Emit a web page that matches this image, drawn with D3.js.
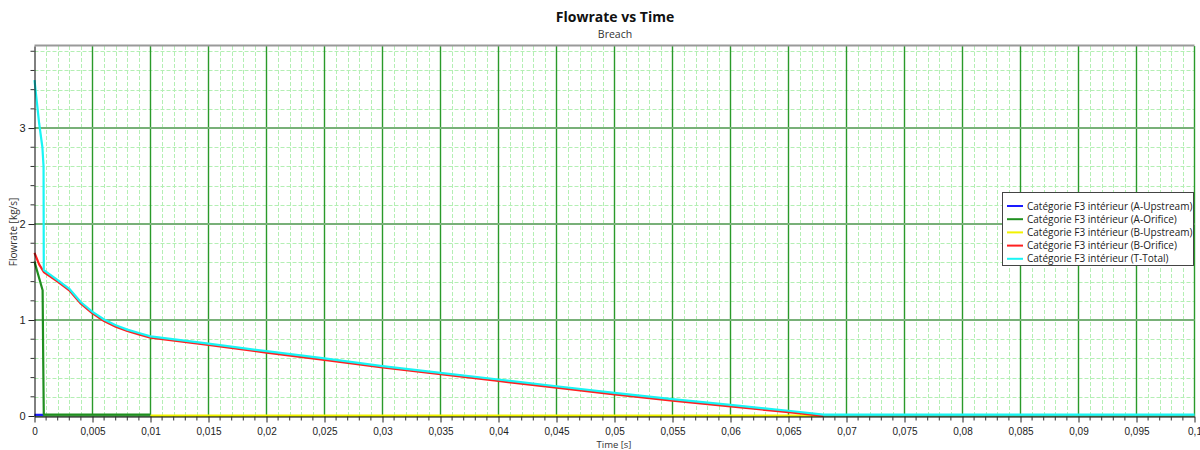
<!DOCTYPE html>
<html>
<head>
<meta charset="utf-8">
<script src="https://cdn.jsdelivr.net/npm/d3@7"></script>
<style>
  html, body { margin: 0; padding: 0; background: #fff; }
  svg { display: block; font-family: "Open Sans", "Noto Sans", sans-serif; }
</style>
</head>
<body>
<svg id="chart" width="1200" height="450"></svg>
<script>
// Flowrate vs time for the breach scenario, five series.
const seriesNames = [
  "Catégorie F3 intérieur (A-Upstream)",
  "Catégorie F3 intérieur (A-Orifice)",
  "Catégorie F3 intérieur (B-Upstream)",
  "Catégorie F3 intérieur (B-Orifice)",
  "Catégorie F3 intérieur (T-Total)"
];
const seriesColors = ["#1a1aff", "#1f8f1f", "#f2f200", "#ff2020", "#19f5f5"];

// time [s], flowrate [kg/s]
const aUpstreamT = [0, 0.0008];
const aUpstreamV = [0.012, 0.012];

const aOrificeT = [0, 0.0003, 0.0007, 0.00075, 0.0008, 0.01];
const aOrificeV = [1.61, 1.48, 1.31, 0.6, 0.015, 0.015];

const bUpstreamT = [0.01, 0.068];
const bUpstreamV = [0.004, 0.004];

const bOrificeT = [0, 0.0004, 0.0008, 0.002, 0.003, 0.004, 0.005, 0.006, 0.007, 0.008, 0.009, 0.01,
  0.015, 0.02, 0.025, 0.03, 0.035, 0.04, 0.045, 0.05, 0.055, 0.06, 0.065, 0.068];
const bOrificeV = [1.70, 1.58, 1.50, 1.40, 1.31, 1.17, 1.07, 0.99, 0.93, 0.885, 0.85, 0.815,
  0.74, 0.66, 0.585, 0.505, 0.435, 0.365, 0.295, 0.225, 0.16, 0.10, 0.04, 0.0];

const totalT = [0, 0.0004, 0.00068, 0.00078, 0.0008, 0.002, 0.003, 0.004, 0.005, 0.006, 0.007, 0.008, 0.009, 0.01,
  0.015, 0.02, 0.025, 0.03, 0.035, 0.04, 0.045, 0.05, 0.055, 0.06, 0.065, 0.068, 0.1];
const totalV = [3.50, 3.05, 2.80, 2.60, 1.52, 1.415, 1.325, 1.185, 1.085, 1.005, 0.945, 0.90, 0.865, 0.83,
  0.755, 0.675, 0.60, 0.52, 0.45, 0.38, 0.31, 0.24, 0.175, 0.115, 0.055, 0.015, 0.015];

const xTickValues = [0, 0.005, 0.01, 0.015, 0.02, 0.025, 0.03, 0.035, 0.04, 0.045, 0.05,
  0.055, 0.06, 0.065, 0.07, 0.075, 0.08, 0.085, 0.09, 0.095, 0.1];
const yTickValues = [0, 1, 2, 3];

const series = [
  { t: aUpstreamT, v: aUpstreamV },
  { t: aOrificeT, v: aOrificeV },
  { t: bUpstreamT, v: bUpstreamV },
  { t: bOrificeT, v: bOrificeV },
  { t: totalT, v: totalV }
];

const svg = d3.select("#chart");
const plot = { left: 34.5, right: 1194.5, top: 46, bottom: 416 };

const x = d3.scaleLinear().domain([0, 0.1]).range([plot.left, plot.right]);
const y = d3.scaleLinear().domain([0, 3.855]).range([plot.bottom, plot.top]);

const fmt = v => d3.format("~g")(+v.toFixed(4)).replace(".", ",");

// Minor grid (dashed)
const xMinor = d3.range(0, 101).map(i => i / 1000).filter((d, i) => i % 5 !== 0);
const yMinor = d3.range(0, 20).map(i => i * 0.2).filter(d => Math.abs(d - Math.round(d)) > 1e-6 && d <= 3.855);

const grid = svg.append("g");
grid.selectAll(".vmin").data(xMinor).join("line")
  .attr("x1", d => Math.round(x(d)) + 0.5).attr("x2", d => Math.round(x(d)) + 0.5)
  .attr("y1", plot.top).attr("y2", plot.bottom)
  .attr("stroke", "#b4efb4").attr("stroke-width", 1).attr("stroke-dasharray", "4,2");
grid.selectAll(".hmin").data(yMinor).join("line")
  .attr("x1", plot.left).attr("x2", plot.right)
  .attr("y1", d => Math.round(y(d)) + 0.5).attr("y2", d => Math.round(y(d)) + 0.5)
  .attr("stroke", "#b4efb4").attr("stroke-width", 1).attr("stroke-dasharray", "4,2");

// Major grid
grid.selectAll(".vmaj").data(xTickValues.slice(1)).join("line")
  .attr("x1", d => x(d)).attr("x2", d => x(d))
  .attr("y1", plot.top).attr("y2", plot.bottom)
  .attr("stroke", "#2a9a2a").attr("stroke-width", 1.4);
grid.selectAll(".hmaj").data(yTickValues).join("line")
  .attr("x1", plot.left).attr("x2", plot.right)
  .attr("y1", d => y(d)).attr("y2", d => y(d))
  .attr("stroke", "#78b078").attr("stroke-width", 2);

// Top border
svg.append("line")
  .attr("x1", plot.left).attr("x2", plot.right)
  .attr("y1", plot.top - 0.5).attr("y2", plot.top - 0.5)
  .attr("stroke", "#999").attr("stroke-width", 2);

// Series
const line = d3.line().x(d => x(d[0])).y(d => y(d[1]));
svg.append("g").selectAll("path").data(series).join("path")
  .attr("d", s => line(s.t.map((t, i) => [t, s.v[i]])))
  .attr("fill", "none")
  .attr("stroke", (s, i) => seriesColors[i])
  .attr("stroke-width", 2.2)
  .attr("stroke-linejoin", "round");

// Axes
const xAxis = d3.axisBottom(x).tickValues(xTickValues).tickFormat(fmt).tickSize(6).tickPadding(2).tickSizeOuter(0);
const gx = svg.append("g").attr("transform", `translate(0,${plot.bottom + 0.5})`).call(xAxis);
gx.selectAll(".tick text").attr("font-size", 10).attr("fill", "#222").attr("dy", "1em");
gx.select(".domain").attr("stroke", "#000");
gx.selectAll(".tick line").attr("stroke", "#222");
gx.append("g").selectAll("line").data(xMinor).join("line")
  .attr("x1", d => x(d)).attr("x2", d => x(d)).attr("y1", 0).attr("y2", 4)
  .attr("stroke", "#333");

const yAxis = d3.axisLeft(y).tickValues(yTickValues).tickFormat(d3.format("d")).tickSize(6).tickSizeOuter(0);
const gy = svg.append("g").attr("transform", `translate(${plot.left},0)`).call(yAxis);
gy.selectAll(".tick text").attr("font-size", 11).attr("fill", "#222").attr("x", -9);
gy.select(".domain").attr("stroke", "#000");
gy.selectAll(".tick line").attr("stroke", "#222");
gy.append("g").selectAll("line").data(yMinor).join("line")
  .attr("x1", 0).attr("x2", -4).attr("y1", d => y(d)).attr("y2", d => y(d))
  .attr("stroke", "#333");

// Titles
svg.append("text").attr("x", 615).attr("y", 22).attr("text-anchor", "middle")
  .attr("font-size", 14).attr("font-weight", "bold").attr("fill", "#111").text("Flowrate vs Time");
svg.append("text").attr("x", 615).attr("y", 38).attr("text-anchor", "middle")
  .attr("font-size", 10.5).attr("fill", "#333").text("Breach");
svg.append("text").attr("x", 614).attr("y", 448).attr("text-anchor", "middle")
  .attr("font-size", 9.5).attr("fill", "#333").text("Time [s]");
svg.append("text").attr("transform", "translate(17,232) rotate(-90)").attr("text-anchor", "middle")
  .attr("font-size", 10).attr("fill", "#333").text("Flowrate [kg/s]");

// Legend
const legend = svg.append("g");
legend.append("rect").attr("x", 1002.5).attr("y", 192.5).attr("width", 191).attr("height", 73)
  .attr("fill", "#fff").attr("stroke", "#444").attr("stroke-width", 1);
const rows = legend.selectAll(".row").data(seriesNames).join("g")
  .attr("transform", (d, i) => `translate(0,${206 + i * 13.2})`);
rows.append("line").attr("x1", 1007).attr("x2", 1023).attr("y1", 0).attr("y2", 0)
  .attr("stroke", (d, i) => seriesColors[i]).attr("stroke-width", 2);
rows.append("text").attr("x", 1027).attr("y", 3.5).attr("font-size", 10)
  .attr("fill", "#222").text(d => d);
</script>
</body>
</html>
